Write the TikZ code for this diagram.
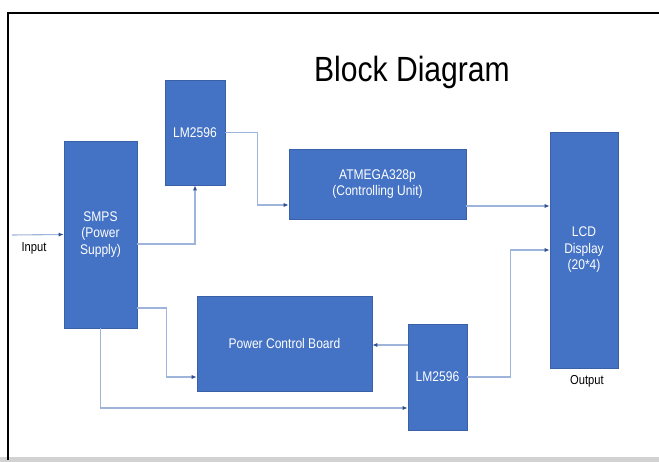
\documentclass[tikz,border=0pt]{standalone}
\usepackage{fontspec}
\setmainfont{Liberation Sans}
\newfontfamily\narrowfont[FakeStretch=0.86]{Liberation Sans}
\usetikzlibrary{arrows.meta,positioning,calc}
\definecolor{blockblue}{HTML}{4472C4}
\definecolor{wireblue}{HTML}{9FB4DA}
\definecolor{tipblue}{HTML}{2F4F8F}
\tikzset{
  block/.style={
    fill=blockblue,
    draw=blockblue!85!black,
    line width=0.6pt,
    text=white,
    align=center,
    inner sep=2pt,
    font=\narrowfont\fontsize{14}{16.5}\selectfont
  },
  conn/.style={draw=wireblue, line width=1.1pt,
    -{Latex[length=5pt,width=4pt,color=tipblue]}},
  tag/.style={font=\narrowfont\fontsize{13}{15}\selectfont, text=black}
}

\begin{document}
\begin{tikzpicture}[x=1pt,y=-1pt]
  \useasboundingbox (0,0) rectangle (659,462);
  % frame of the page
  \fill[gray!35] (0,457) rectangle (659,462);
  \draw[line width=2pt] (8,460) -- (8,13) -- (662,13);
  \node[font=\narrowfont\fontsize{35}{40}\selectfont] (title) at (412,72) {Block Diagram};

  \node[block, minimum width=73pt, minimum height=187pt] (smps) at (100.5,234.5) {SMPS\\(Power\\Supply)};
  \node[block, minimum width=60pt, minimum height=105pt] (lmtop) at (195,132.5) {LM2596};
  \node[block, minimum width=177pt, minimum height=70pt] (atmega) at (377.5,184) {ATMEGA328p\\(Controlling Unit)};
  \node[block, minimum width=68pt, minimum height=236pt] (lcd) at (584,250) {LCD\\Display\\(20*4)};
  \node[block, minimum width=175pt, minimum height=95pt] (pcb) at (284.5,343.5) {Power Control Board};
  \node[block, minimum width=59pt, minimum height=106pt] (lmbot) at (437.5,377) {LM2596};

  \coordinate (in) at (12,235);
  \node[tag] (inlabel) at (34,248) {Input};
  \node[tag] (outlabel) at (587,381) {Output};

  \draw[conn] (in) -- (smps.west);
  \draw[conn] (smps.east |- 0,244) -| (lmtop.south);
  \draw[conn] (lmtop.east) -- ++(32,0) |- (atmega.west |- 0,205);
  \draw[conn] (atmega.east |- 0,206) -- (lcd.west |- 0,206);
  \draw[conn] (smps.east |- 0,308) -- ++(29,0) |- (pcb.west |- 0,377);
  \draw[conn] (smps.south) |- (lmbot.west |- 0,408);
  \draw[conn] (lmbot.west |- 0,345) -- (pcb.east |- 0,345);
  \draw[conn] (lmbot.east) -- ++(43,0) |- (lcd.west);
\end{tikzpicture}
\end{document}
